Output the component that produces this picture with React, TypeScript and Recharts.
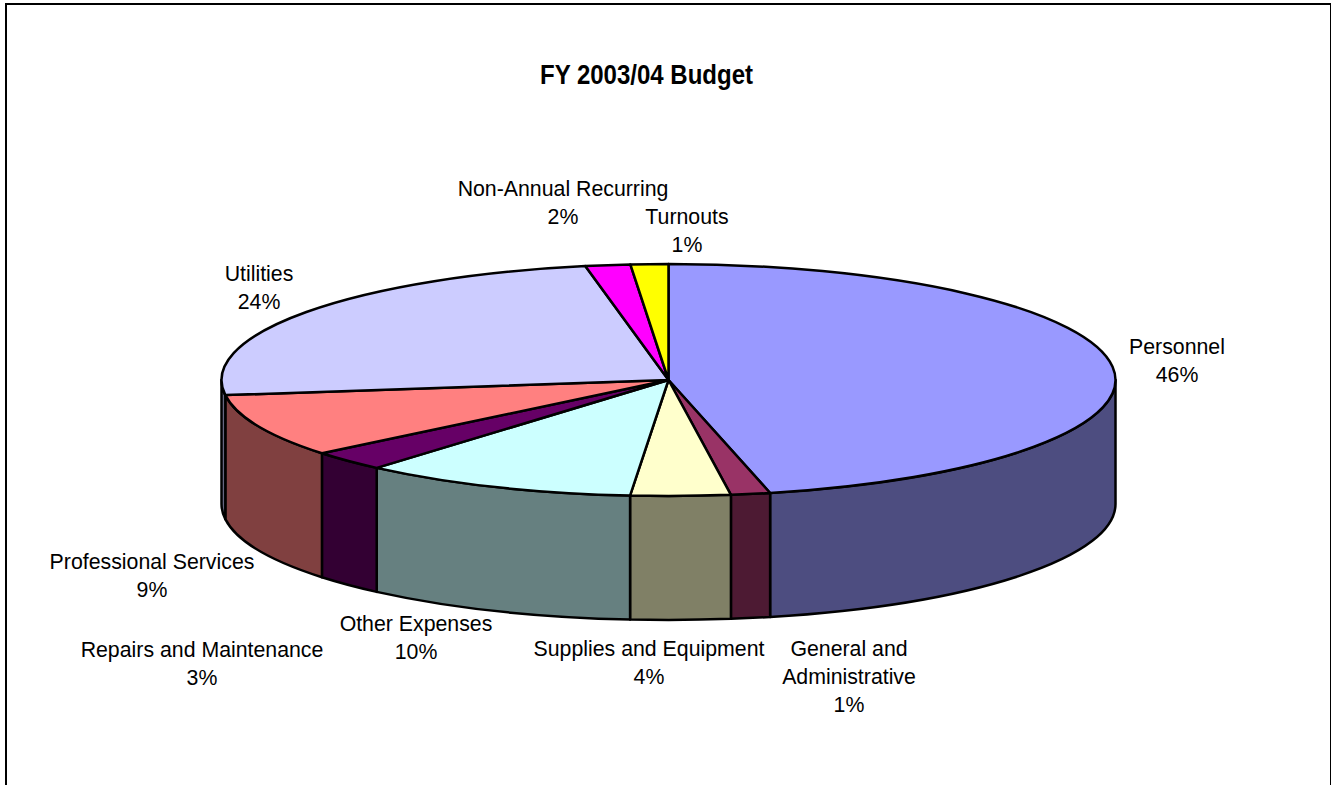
import { Pie, PieChart } from "recharts";

const categories = [
  "Personnel",
  "General and Administrative",
  "Supplies and Equipment",
  "Other Expenses",
  "Repairs and Maintenance",
  "Professional Services",
  "Utilities",
  "Non-Annual Recurring",
  "Turnouts",
];
const shares = [46.35, 1.42, 3.6, 9.95, 2.8, 8.8, 24.1, 1.62, 1.36];
const topColors = [
  "#9999FF",
  "#993366",
  "#FFFFCC",
  "#CCFFFF",
  "#660066",
  "#FF8080",
  "#CCCCFF",
  "#FF00FF",
  "#FFFF00",
];
const sideColors = [
  "#4D4D80",
  "#4D1A33",
  "#808066",
  "#668080",
  "#330033",
  "#804040",
  "#666680",
  "#800080",
  "#808000",
];

const chartData = categories.map((name, i) => ({
  name,
  value: shares[i],
  fill: topColors[i],
  side: sideColors[i],
}));

// where each label sits: centre x and first baseline
const labelSpots: Record<string, { x: number; y: number; lines?: string[] }> = {
  Personnel: { x: 1177, y: 354 },
  "General and Administrative": {
    x: 849,
    y: 656,
    lines: ["General and", "Administrative"],
  },
  "Supplies and Equipment": { x: 649, y: 656 },
  "Other Expenses": { x: 416, y: 631 },
  "Repairs and Maintenance": { x: 202, y: 657 },
  "Professional Services": { x: 152, y: 569 },
  Utilities: { x: 259, y: 281 },
  "Non-Annual Recurring": { x: 563, y: 196 },
  Turnouts: { x: 687, y: 224 },
};

const CX = 668.5;
const CY = 380;
const RX = 447;
const RY = 116;
const DEPTH = 124;
const EDGE = 2.5;

const ellipsePoint = (deg: number) => {
  const t = (deg * Math.PI) / 180;
  return { x: CX + RX * Math.cos(t), y: CY + RY * Math.sin(t) };
};

// Squashes the sector recharts hands us into an ellipse and adds its front wall
function TiltedSlice(props: any) {
  const from = -props.startAngle;
  const to = -props.endAngle;
  const a = ellipsePoint(from);
  const b = ellipsePoint(to);
  const large = to - from > 180 ? 1 : 0;
  const top = `M${CX},${CY} L${a.x},${a.y} A${RX},${RY} 0 ${large} 1 ${b.x},${b.y} Z`;

  const wallFrom = Math.max(from, 0);
  const wallTo = Math.min(to, 180);
  let wall = null;
  if (wallTo > wallFrom) {
    const p = ellipsePoint(wallFrom);
    const q = ellipsePoint(wallTo);
    const d =
      `M${p.x},${p.y} A${RX},${RY} 0 0 1 ${q.x},${q.y} L${q.x},${q.y + DEPTH} ` +
      `A${RX},${RY} 0 0 0 ${p.x},${p.y + DEPTH} Z`;
    wall = (
      <path d={d} fill={props.payload?.side ?? props.side} stroke="#000" strokeWidth={EDGE} strokeLinejoin="round" />
    );
  }
  return (
    <g>
      {wall}
      <path d={top} fill={props.fill} stroke="#000" strokeWidth={EDGE} strokeLinejoin="round" />
    </g>
  );
}

function SliceLabel(props: any) {
  const spot = labelSpots[props.name];
  if (!spot) return null;
  const lines = [...(spot.lines ?? [props.name]), `${Math.round(props.percent * 100)}%`];
  return (
    <text
      x={spot.x}
      y={spot.y}
      textAnchor="middle"
      fontFamily="'Liberation Sans', Arial, sans-serif"
      fontSize={21.3}
      fill="#000"
    >
      {lines.map((line, i) => (
        <tspan key={i} x={spot.x} y={spot.y + i * 28}>
          {line}
        </tspan>
      ))}
    </text>
  );
}

export default function App() {
  return (
    <div style={{ position: "absolute", left: 0, top: 0, width: 1331, height: 785, overflow: "hidden", background: "#fff" }}>
      <div
        style={{
          position: "absolute",
          left: 5,
          top: 3,
          width: 1323,
          height: 800,
          borderLeft: "2px solid #000",
          borderTop: "2px solid #000",
          borderRight: "2px solid #000",
        }}
      />
      <div style={{ position: "absolute", left: 0, top: 0 }}>
        <PieChart width={1331} height={785} margin={{ top: 0, right: 0, bottom: 0, left: 0 }}>
          <text
            x={646.5}
            y={84}
            textAnchor="middle"
            textLength={213}
            lengthAdjust="spacingAndGlyphs"
            fontFamily="'Liberation Sans', Arial, sans-serif"
            fontWeight="bold"
            fontSize={27.5}
            fill="#000"
          >
            FY 2003/04 Budget
          </text>
          <Pie
            data={chartData}
            dataKey="value"
            nameKey="name"
            cx={CX}
            cy={CY}
            innerRadius={0}
            outerRadius={RX}
            startAngle={90}
            endAngle={-270}
            paddingAngle={0}
            stroke="#000"
            shape={TiltedSlice}
            label={SliceLabel}
            labelLine={false}
            isAnimationActive={false}
          />
        </PieChart>
      </div>
    </div>
  );
}
